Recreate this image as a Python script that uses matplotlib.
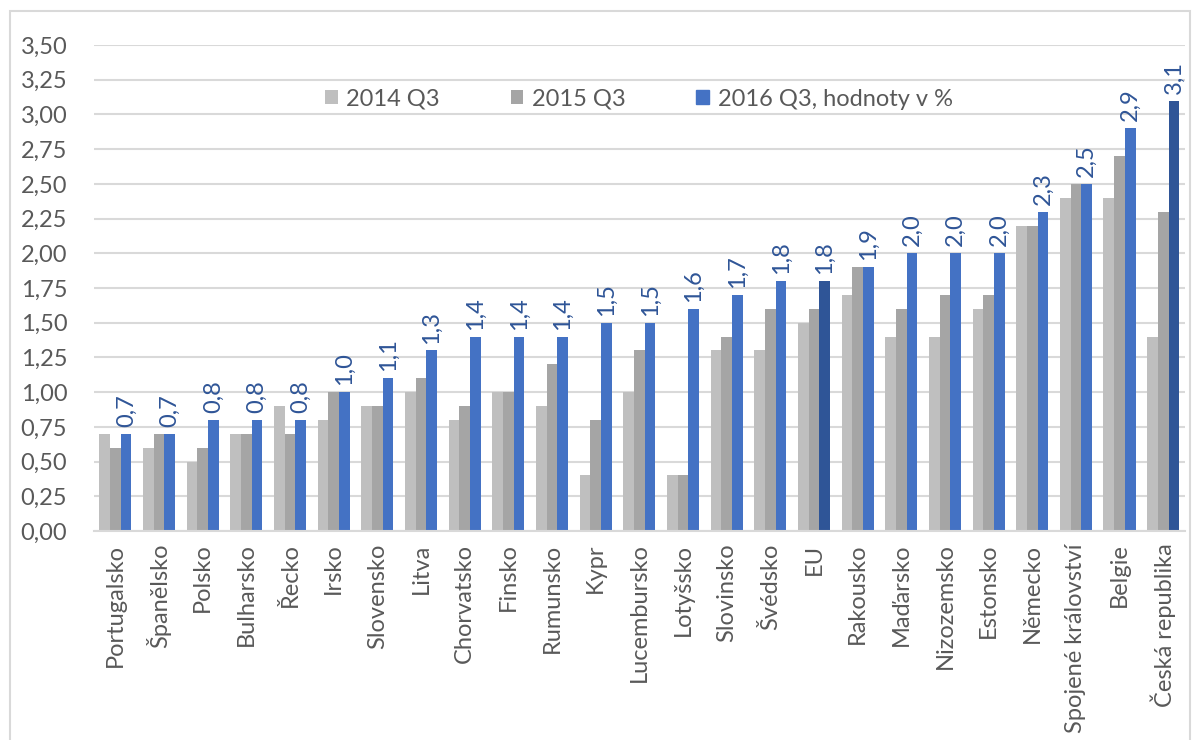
import numpy as np
import matplotlib
matplotlib.use("Agg")
import matplotlib.pyplot as plt
from matplotlib.patches import Rectangle

plt.rcParams["font.family"] = ["Lato", "DejaVu Sans"]

# Data
countries = ["Portugalsko", "Španělsko", "Polsko", "Bulharsko", "Řecko", "Irsko",
             "Slovensko", "Litva", "Chorvatsko", "Finsko", "Rumunsko", "Kypr",
             "Lucembursko", "Lotyšsko", "Slovinsko", "Švédsko", "EU", "Rakousko",
             "Maďarsko", "Nizozemsko", "Estonsko", "Německo", "Spojené království",
             "Belgie", "Česká republika"]
q3_2014 = [0.7, 0.6, 0.5, 0.7, 0.9, 0.8, 0.9, 1.0, 0.8, 1.0, 0.9, 0.4, 1.0,
           0.4, 1.3, 1.3, 1.5, 1.7, 1.4, 1.4, 1.6, 2.2, 2.4, 2.4, 1.4]
q3_2015 = [0.6, 0.7, 0.6, 0.7, 0.7, 1.0, 0.9, 1.1, 0.9, 1.0, 1.2, 0.8, 1.3,
           0.4, 1.4, 1.6, 1.6, 1.9, 1.6, 1.7, 1.7, 2.2, 2.5, 2.7, 2.3]
q3_2016 = [0.7, 0.7, 0.8, 0.8, 0.8, 1.0, 1.1, 1.3, 1.4, 1.4, 1.4, 1.5, 1.5,
           1.6, 1.7, 1.8, 1.8, 1.9, 2.0, 2.0, 2.0, 2.3, 2.5, 2.9, 3.1]
highlight = ["EU", "Česká republika"]
series_names = ["2014 Q3", "2015 Q3", "2016 Q3, hodnoty v %"]

c14, c15, c16, c_dark = "#BFBFBF", "#A5A5A5", "#4472C4", "#2F5597"
txt = "#595959"
fs = 17

fig = plt.figure(figsize=(12, 7.4), dpi=100)
ax = fig.add_axes([0.078, 0.2824, 0.9095, 0.6568])

# rámeček grafu
fig.patches.append(Rectangle((10 / 1200, -0.1), 1180 / 1200, 1.1 - 11 / 740,
                             transform=fig.transFigure, fill=False,
                             edgecolor="#D9D9D9", linewidth=1.5))

x = np.arange(len(countries))
w = 0.245
ax.bar(x - w, q3_2014, w, color=c14, label=series_names[0], zorder=2)
ax.bar(x, q3_2015, w, color=c15, label=series_names[1], zorder=2)
colors16 = [c_dark if c in highlight else c16 for c in countries]
ax.bar(x + w, q3_2016, w, color=colors16, label=series_names[2], zorder=2)

# popisky hodnot
for xi, v in zip(x, q3_2016):
    ax.annotate(f"{v:.1f}".replace(".", ","), (xi + w, v), xytext=(0, 5),
                textcoords="offset points", rotation=90, ha="center", va="bottom",
                fontsize=fs, color=c_dark, clip_on=False)

ax.set_xlim(-0.5, len(countries) - 0.5)
ax.set_ylim(0, 3.5)
yt = np.arange(0, 3.51, 0.25)
ax.set_yticks(yt)
ax.set_yticklabels([f"{t:.2f}".replace(".", ",") for t in yt])
ax.set_xticks(x)
ax.set_xticklabels(countries, rotation=90)
ax.tick_params(axis="both", length=0, labelsize=fs, colors=txt)
ax.tick_params(axis="y", pad=19)
ax.tick_params(axis="x", pad=9)

ax.grid(axis="y", color="#D9D9D9", linewidth=1.5, zorder=0)
for s in ["top", "right", "left"]:
    ax.spines[s].set_visible(False)
ax.spines["bottom"].set_color("#D9D9D9")
ax.spines["bottom"].set_linewidth(1.5)

handles, labels = ax.get_legend_handles_labels()
handles[2] = Rectangle((0, 0), 1, 1, color=c16)
fig.legend(handles, labels, loc="center left", bbox_to_anchor=(313 / 1200, 1 - 99 / 740),
           ncol=3, frameon=False, fontsize=fs, labelcolor=txt, borderpad=0,
           handlelength=0.55, handleheight=0.55, handletextpad=0.35, columnspacing=3.0)

fig.savefig("out.png", dpi=100)
